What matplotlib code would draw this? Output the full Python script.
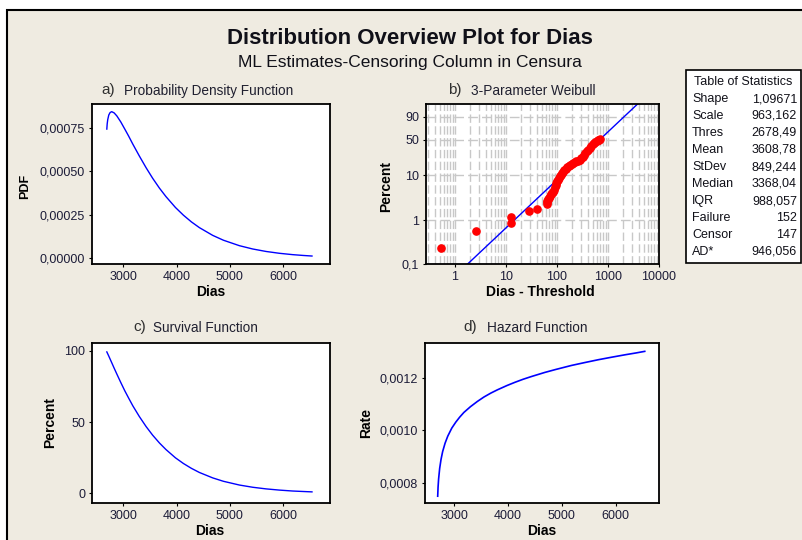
import numpy as np
import matplotlib
matplotlib.use("Agg")
import matplotlib.pyplot as plt
from matplotlib.patches import Rectangle
from matplotlib.ticker import FixedLocator, NullLocator

plt.rcParams['font.family'] = ['Liberation Sans', 'DejaVu Sans']

# ---------------- data ----------------
dias = [2691, 2698, 2708, 2728, 2753, 2783, 2828, 2878, 2953, 3028, 3100, 3178,
        3300, 3428, 3550, 3678, 3800, 3978, 4128, 4278, 4428, 4678, 4878, 5178,
        5428, 5678, 5928, 6178, 6378, 6540]
pdf_vals = [0.000742, 0.000772, 0.000796, 0.000823, 0.000837, 0.000842, 0.000835,
            0.000818, 0.000783, 0.000742, 0.000702, 0.000656, 0.000588, 0.000520,
            0.000460, 0.000403, 0.0003545, 0.000292, 0.0002476, 0.000209,
            0.0001761, 0.0001316, 0.0001039, 0.0000725, 0.0000535, 0.0000393,
            0.0000288, 0.0000210, 0.0000163, 0.0000131]
surv_vals = [99.15, 98.6, 97.8, 96.2, 94.1, 91.6, 87.8, 83.7, 77.7, 71.9, 66.8,
             61.4, 53.9, 46.8, 40.8, 35.3, 30.7, 24.9, 20.9, 17.5, 14.6, 10.8,
             8.43, 5.8, 4.24, 3.1, 2.25, 1.6, 1.26, 1.0]
haz_vals = [0.000748, 0.000783, 0.000814, 0.000855, 0.000889, 0.000919, 0.000951,
            0.000978, 0.001009, 0.001032, 0.001051, 0.001069, 0.001091, 0.001111,
            0.001128, 0.001143, 0.0011555, 0.001172, 0.0011845, 0.001196,
            0.0012062, 0.001222, 0.0012332, 0.001249, 0.0012602, 0.001271,
            0.0012807, 0.001290, 0.0012969, 0.001303]

# probability plot points (Dias - Threshold, percent)
pp_x = [0.52, 2.58, 12.4, 12.6, 27.9, 41, 63, 64, 65, 67, 70, 73, 77, 80, 85, 88,
        91, 94, 97, 100, 105, 110, 115, 120, 127, 133, 140, 150, 160, 170, 180,
        195, 210, 225, 240, 260, 280, 300, 320, 340, 360, 385, 410, 440, 470, 500,
        530, 560, 600, 640, 680, 710]
pp_p = [0.23, 0.57, 1.19, 0.88, 1.60, 1.77, 2.35, 2.55, 2.75, 2.95, 3.2, 3.5, 3.8,
        4.1, 4.4, 4.9, 5.5, 6.1, 6.8, 7.4, 8.1, 8.9, 9.6, 10.3, 11.2, 12.0, 12.9,
        14.0, 15.0, 15.9, 16.8, 17.8, 18.6, 19.3, 19.9, 20.5, 21.3, 22.8, 24.5,
        26.5, 28.5, 31.0, 33.5, 36.5, 39.0, 41.5, 44.0, 46.0, 47.8, 49.0, 49.8, 50.3]
fit_x = [1.5, 4000]
fit_p = [0.0834, 99.15]

stat_names = ['Shape', 'Scale', 'Thres', 'Mean', 'StDev', 'Median', 'IQR',
              'Failure', 'Censor', 'AD*']
stat_values = ['1,09671', '963,162', '2678,49', '3608,78', '849,244', '3368,04',
               '988,057', '152', '147', '946,056']

# ---------------- figure ----------------
W, H = 803, 540
fig = plt.figure(figsize=(W / 100, H / 100), dpi=100, facecolor='white')
BG = '#efebe1'
TICKC = '#1c1c38'

def px(x, y):
    return x / W, 1 - y / H

fig.patches.append(Rectangle(px(7, 560), (830 - 7) / W, (560 - 10) / H,
                             transform=fig.transFigure, facecolor=BG,
                             edgecolor='black', linewidth=1.5, zorder=-10))

def make_ax(x0, x1, y0, y1):
    ax = fig.add_axes([x0 / W, 1 - y1 / H, (x1 - x0) / W, (y1 - y0) / H])
    ax.set_zorder(2)
    ax.set_facecolor('white')
    for s in ax.spines.values():
        s.set_linewidth(1.3)
        s.set_color('black')
    ax.tick_params(axis='both', which='major', length=2.5, width=0.8,
                   labelsize=9, colors='black', labelcolor=TICKC, pad=2.5)
    return ax

def comma(v, fmt):
    return (fmt % v).replace('.', ',')

# ---- a) PDF
ax_a = make_ax(92, 330, 104, 264)
ax_a.plot(dias, pdf_vals, color='#0000ff', lw=1.0)
ax_a.set_xlim(2413, 6878)
ax_a.set_ylim(-0.0000327, 0.000886)
ax_a.set_xticks([3000, 4000, 5000, 6000])
yt = [0.0, 0.00025, 0.0005, 0.00075]
ax_a.set_yticks(yt)
ax_a.set_yticklabels([comma(v, '%.5f') for v in yt])
ax_a.set_xlabel('Dias', fontsize=10, fontweight='bold', va='center')
ax_a.xaxis.set_label_coords(0.5, -0.173)
ax_a.set_ylabel('PDF', fontsize=9, fontweight='bold', va='center')
ax_a.yaxis.set_label_coords(-0.2815, 0.483)

# ---- b) 3-parameter Weibull probability plot
ax_b = make_ax(426, 659, 104, 264)

def fwd(p):
    p = np.clip(np.asarray(p, dtype=float), 1e-9, 100 - 1e-9)
    return np.log(-np.log(1 - p / 100.0))

def inv(w):
    w = np.clip(np.asarray(w, dtype=float), -30, 3.5)
    return 100.0 * (1 - np.exp(-np.exp(w)))

ax_b.set_xscale('log')
ax_b.set_yscale('function', functions=(fwd, inv))
ax_b.set_xlim(0.27, 10000)
ax_b.set_ylim(0.1, 98.9)

minor_x = [m * 10.0 ** e for e in range(-1, 4) for m in range(2, 10)]
minor_x = [v for v in minor_x if 0.27 < v < 10000]
for v in minor_x + [1, 10, 100, 1000]:
    ax_b.axvline(v, color='#c8c8c8', lw=1.0, ls=(0, (6, 2.5)), zorder=1)
for v in [1, 10, 50, 90]:
    ax_b.axhline(v, color='#c8c8c8', lw=1.0, ls=(0, (7, 3)), zorder=1)

ax_b.plot(fit_x, fit_p, color='#0000ff', lw=1.0, zorder=2)
ax_b.plot(pp_x, pp_p, 'o', color='#ff0000', ms=5.2, mec='#ff0000', zorder=3)
ax_b.xaxis.set_major_locator(FixedLocator([1, 10, 100, 1000, 10000]))
ax_b.xaxis.set_minor_locator(NullLocator())
ax_b.set_xticklabels(['1', '10', '100', '1000', '10000'])
ax_b.yaxis.set_major_locator(FixedLocator([0.1, 1, 10, 50, 90]))
ax_b.yaxis.set_minor_locator(NullLocator())
ax_b.set_yticklabels(['0,1', '1', '10', '50', '90'])
ax_b.set_xlabel('Dias - Threshold', fontsize=10, fontweight='bold', va='center')
ax_b.xaxis.set_label_coords(0.492, -0.173)
ax_b.set_ylabel('Percent', fontsize=10, fontweight='bold', va='center')
ax_b.yaxis.set_label_coords(-0.1717, 0.4875)

# ---- c) Survival
ax_c = make_ax(92, 330, 343, 503)
ax_c.plot(dias, surv_vals, color='#0000ff', lw=1.0)
ax_c.set_xlim(2413, 6878)
ax_c.set_ylim(-6.8, 105.4)
ax_c.set_xticks([3000, 4000, 5000, 6000])
ax_c.set_yticks([0, 50, 100])
ax_c.set_xlabel('Dias', fontsize=10, fontweight='bold', va='center')
ax_c.xaxis.set_label_coords(0.496, -0.173)
ax_c.set_ylabel('Percent', fontsize=10, fontweight='bold', va='center')
ax_c.yaxis.set_label_coords(-0.1765, 0.5)

# ---- d) Hazard
ax_d = make_ax(425, 659, 343, 503)
ax_d.plot(dias, haz_vals, color='#0000ff', lw=1.2)
ax_d.set_xlim(2455, 6805)
ax_d.set_ylim(0.000722, 0.001335)
ax_d.set_xticks([3000, 4000, 5000, 6000])
ytd = [0.0008, 0.0010, 0.0012]
ax_d.set_yticks(ytd)
ax_d.set_yticklabels([comma(v, '%.4f') for v in ytd])
ax_d.set_xlabel('Dias', fontsize=10, fontweight='bold', va='center')
ax_d.xaxis.set_label_coords(0.4987, -0.173)
ax_d.set_ylabel('Rate', fontsize=10, fontweight='bold', va='center')
ax_d.yaxis.set_label_coords(-0.2534, 0.5)

# ---- titles
fig.text(*px(409.5, 38.5), 'Distribution Overview Plot for Dias', fontsize=16,
         fontweight='bold', ha='center', va='center', color='#101018')
fig.text(*px(409.5, 62.5), 'ML Estimates-Censoring Column in Censura',
         fontsize=12.5, ha='center', va='center', color='#101018')

panel_titles = [
    (101.7, 124, 90.7, 'a)', 'Probability Density Function'),
    (448, 470.7, 90.7, 'b)', '3-Parameter Weibull'),
    (133.3, 152.7, 328.3, 'c)', 'Survival Function'),
    (463.3, 487.3, 328.3, 'd)', 'Hazard Function'),
]
for xl, xt, yc, lab, txt in panel_titles:
    fig.text(*px(xl, yc - 1), lab, fontsize=11, ha='left', va='center',
             color='#303030')
    fig.text(*px(xt, yc), txt, fontsize=9.8, ha='left', va='center',
             color='#202030')

# ---- table of statistics
fig.patches.append(Rectangle(px(686, 263), (801 - 686) / W, (263 - 70) / H,
                             transform=fig.transFigure, facecolor='white',
                             edgecolor='black', linewidth=1.2, zorder=1))
fig.text(*px(694, 82), 'Table of Statistics', fontsize=9, ha='left',
         va='center', color='#101018')
for i, (n, v) in enumerate(zip(stat_names, stat_values)):
    y = 99 + 17 * i
    fig.text(*px(692, y), n, fontsize=9, ha='left', va='center', color='#101018')
    fig.text(*px(797, y), v, fontsize=9, ha='right', va='center', color='#101018')

fig.savefig('out.png', dpi=100, facecolor='white')
